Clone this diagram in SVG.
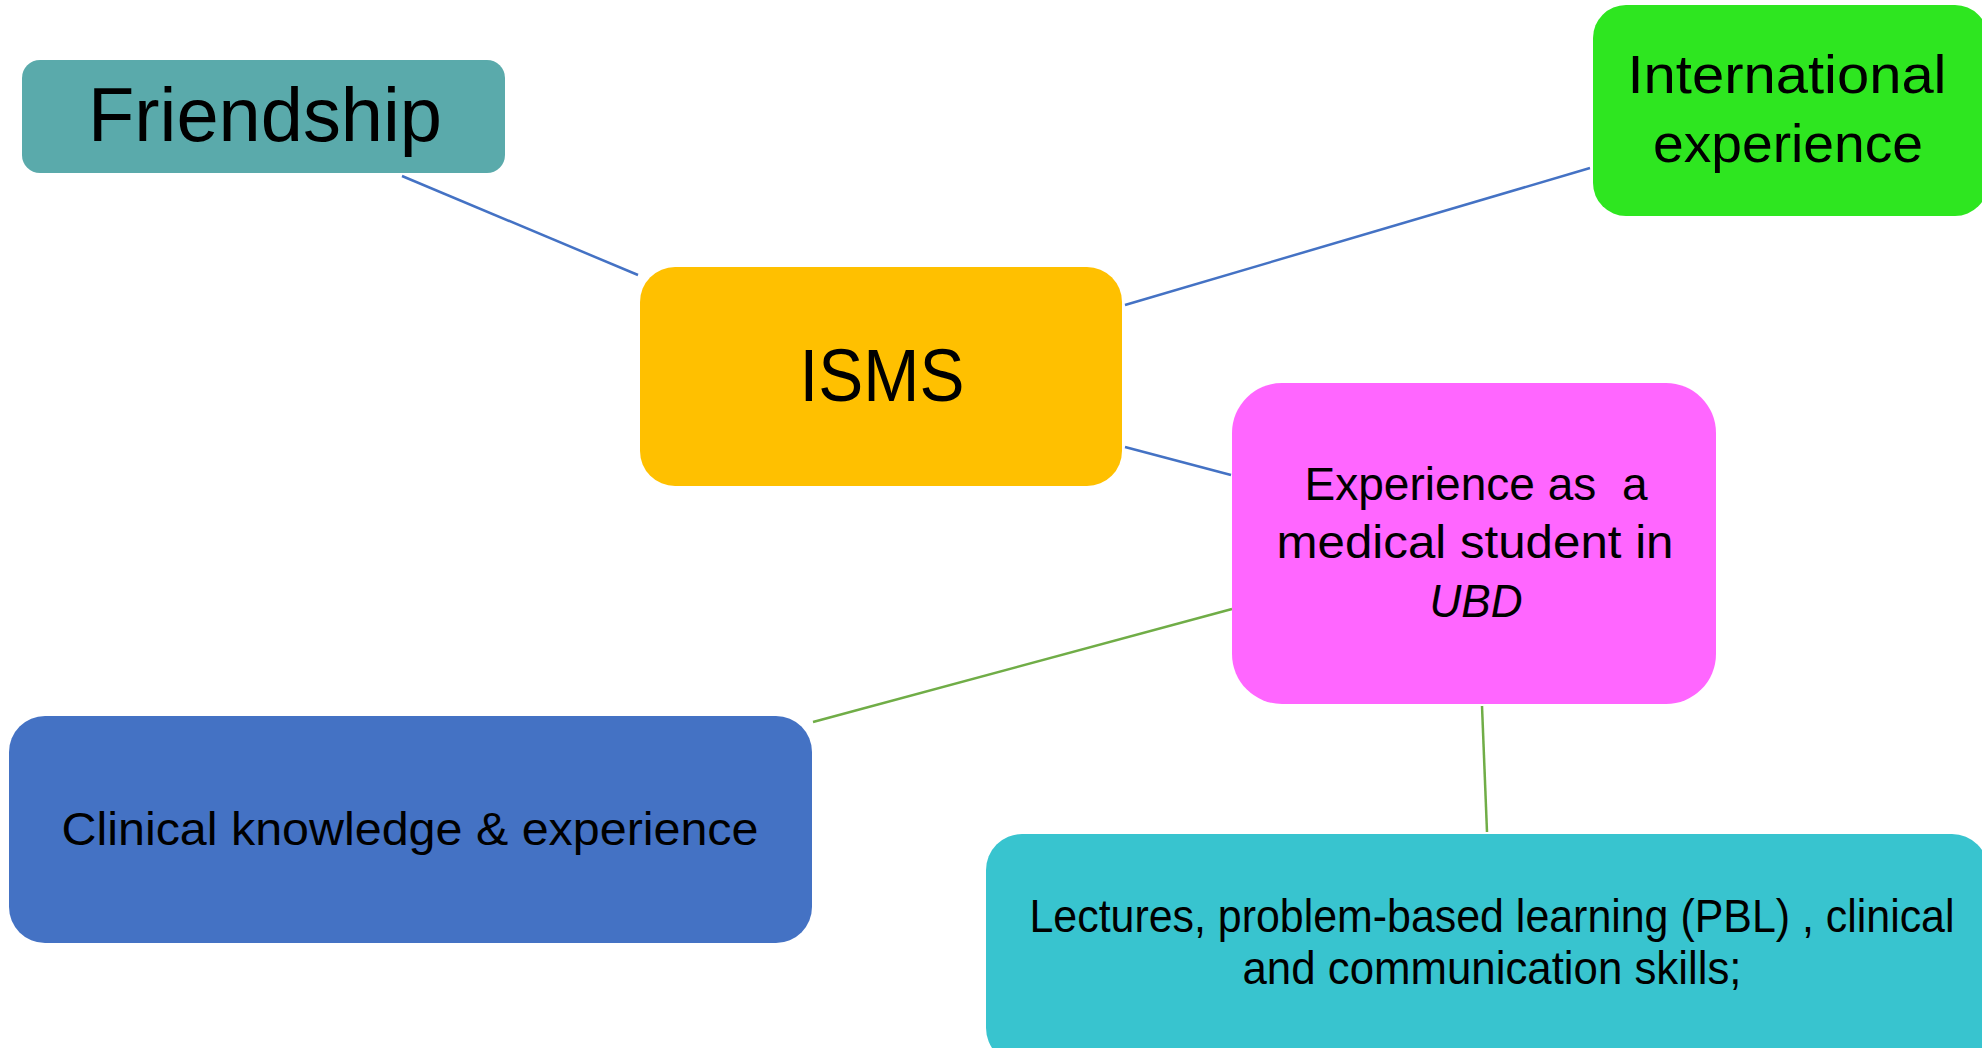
<svg xmlns="http://www.w3.org/2000/svg" width="1982" height="1048" viewBox="0 0 1982 1048">
<style>
  text { font-family: "Liberation Sans", Arial, sans-serif; fill: #000; text-anchor: middle; white-space: pre; }
  .conn-blue { stroke: #4472C4; stroke-width: 2.5; fill: none; }
  .conn-green { stroke: #70AD47; stroke-width: 2.5; fill: none; }
</style>
<rect width="1982" height="1048" fill="#ffffff"/>
<g id="connectors">
  <line class="conn-blue" x1="402" y1="176" x2="638" y2="275"/>
  <line class="conn-blue" x1="1125" y1="305" x2="1590" y2="168"/>
  <line class="conn-blue" x1="1125" y1="447" x2="1231" y2="475"/>
  <line class="conn-green" x1="1232" y1="609" x2="813" y2="722"/>
  <line class="conn-green" x1="1482" y1="706" x2="1487" y2="832"/>
</g>
<g id="friendship">
  <rect x="22" y="60" width="483" height="113" rx="18" fill="#5AAAAB"/>
  <text x="265" y="141" font-size="76" textLength="354" lengthAdjust="spacingAndGlyphs">Friendship</text>
</g>
<g id="international">
  <rect x="1593" y="5" width="395" height="211" rx="33" fill="#2EE620"/>
  <text x="1787" y="93" font-size="54" textLength="319" lengthAdjust="spacingAndGlyphs">International</text>
  <text x="1788" y="162" font-size="54" textLength="270" lengthAdjust="spacingAndGlyphs">experience</text>
</g>
<g id="isms">
  <rect x="640" y="267" width="482" height="219" rx="35" fill="#FFC000"/>
  <text x="882" y="401" font-size="75" textLength="165" lengthAdjust="spacingAndGlyphs">ISMS</text>
</g>
<g id="experience">
  <rect x="1232" y="383" width="484" height="321" rx="50" fill="#FF66FF"/>
  <text x="1476" y="500" font-size="46" textLength="343" lengthAdjust="spacingAndGlyphs">Experience as  a</text>
  <text x="1475" y="558" font-size="46" textLength="397" lengthAdjust="spacingAndGlyphs">medical student in</text>
  <text x="1476" y="617" font-size="46" font-style="italic" textLength="93" lengthAdjust="spacingAndGlyphs">UBD</text>
</g>
<g id="clinical">
  <rect x="9" y="716" width="803" height="227" rx="36" fill="#4472C4"/>
  <text x="410" y="845" font-size="46" textLength="697" lengthAdjust="spacingAndGlyphs">Clinical knowledge &amp; experience</text>
</g>
<g id="lectures">
  <rect x="986" y="834" width="1002" height="230" rx="36" fill="#38C4CF"/>
  <text x="1492" y="932" font-size="46" textLength="925" lengthAdjust="spacingAndGlyphs">Lectures, problem-based learning (PBL) , clinical</text>
  <text x="1492" y="984" font-size="46" textLength="499" lengthAdjust="spacingAndGlyphs">and communication skills;</text>
</g>
</svg>
